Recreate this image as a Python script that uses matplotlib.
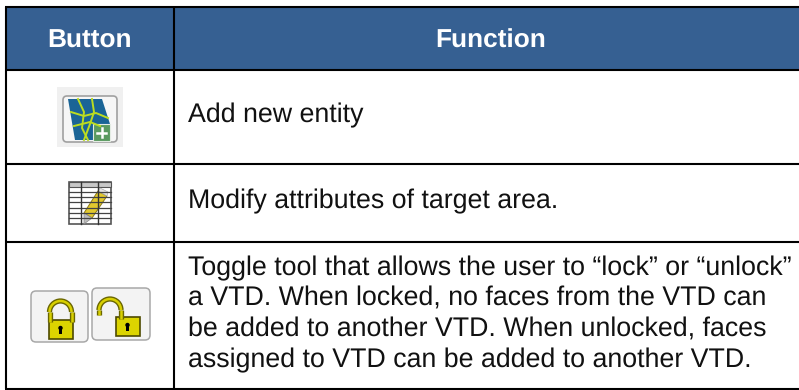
#!/usr/bin/env python3
# table of toolbar buttons, drawn in pixel coordinates
import matplotlib.pyplot as plt
from matplotlib.patches import Rectangle, FancyBboxPatch, Polygon, Arc, Circle

W, H = 799, 390

headers = ['Button', 'Function']
header_xs = [90, 491]
row_lines = [
    ['Add new entity'],
    ['Modify attributes of target area.'],
    ['Toggle tool that allows the user to \u201clock\u201d or \u201cunlock\u201d',
     'a VTD. When locked, no faces from the VTD can',
     'be added to another VTD. When unlocked, faces',
     'assigned to VTD can be added to another VTD.'],
]
row_edges = [7, 70, 164, 242, 389]
col_edges = [6, 174, 799]
baselines = [[122], [208], [275, 306, 337, 367]]

plt.rcParams['font.family'] = ['Liberation Sans', 'DejaVu Sans']
plt.rcParams['text.hinting'] = 'no_hinting'
fig = plt.figure(figsize=(W / 100, H / 100), dpi=100)
ax = fig.add_axes([0, 0, 1, 1])
ax.set_xlim(0, W)
ax.set_ylim(H, 0)
ax.axis('off')


def lock(x0, y0, shackle_x, shackle_top, leg_l, leg_r, w=24, h=19):
    # shackle first, dark outline then yellow core, then the body on top
    for col, lw in (('#6a6600', 3.8), ('#d8d000', 1.8)):
        ax.add_patch(Arc((shackle_x, shackle_top + 11), 22, 22, theta1=180, theta2=360, ec=col, lw=lw))
        ax.plot([shackle_x - 11, shackle_x - 11], [shackle_top + 11, leg_l], color=col, lw=lw, solid_capstyle='butt')
        ax.plot([shackle_x + 11, shackle_x + 11], [shackle_top + 11, leg_r], color=col, lw=lw, solid_capstyle='butt')
    ax.add_patch(Rectangle((x0, y0), w, h, fc='#dcd400', ec='#4e4a00', lw=1.2))
    ax.add_patch(Circle((x0 + w / 2, y0 + 8), 2.2, fc='black', ec='none'))
    ax.add_patch(Rectangle((x0 + w / 2 - 1.5, y0 + 9), 3, 4.5, fc='black', ec='none'))


# header band
ax.add_patch(Rectangle((col_edges[0], row_edges[0]), W - col_edges[0], row_edges[1] - row_edges[0],
                       fc='#366092', ec='none'))
for s, x in zip(headers, header_xs):
    ax.text(x, 48, s, color='white', fontsize=18.9, fontweight='bold', ha='center', va='baseline')

# grid lines
for y in row_edges:
    ax.plot([col_edges[0] - 1, W], [y, y], color='black', lw=1.5, solid_capstyle='butt')
for x in col_edges[:2]:
    ax.plot([x, x], [row_edges[0], row_edges[-1]], color='black', lw=1.5, solid_capstyle='butt')

# body text
for lines, ys in zip(row_lines, baselines):
    for s, y in zip(lines, ys):
        ax.text(188, y, s, color='#111111', fontsize=19.25, ha='left', va='baseline')

# map icon
ax.add_patch(Rectangle((57, 87), 66, 60, fc='#f0f0f0', ec='none'))
ax.add_patch(FancyBboxPatch((63, 96), 54, 46, boxstyle='round,pad=0,rounding_size=4',
                            fc='#f6f6f6', ec='#a0a0a0', lw=1.2))
ax.add_patch(Polygon([[68, 99], [102, 99], [110, 124], [110, 140], [75, 140]], fc='#1a6496', ec='none'))
for xs, ys in [([78, 84, 82, 88], [99, 112, 128, 140]),
               ([92, 94, 90, 84], [99, 112, 124, 140]),
               ([71, 84, 96, 108], [112, 116, 113, 118]),
               ([74, 90, 100], [126, 122, 126])]:
    ax.plot(xs, ys, color='#bcdc20', lw=1.4)
ax.add_patch(Rectangle((93, 124), 17, 17, fc='#5a9a60', ec='#e4ece4', lw=0.8))
ax.plot([97, 106], [132.5, 132.5], color='white', lw=1.8)
ax.plot([101.5, 101.5], [128, 137], color='white', lw=1.8)

# table + pencil icon
ax.add_patch(Rectangle((69, 182), 42, 42, fc='white', ec='#555555', lw=1.2))
ax.add_patch(Rectangle((69, 182), 42, 5, fc='#c8c8c8', ec='#555555', lw=0.8))
for y in [192, 197, 202, 208, 213, 218]:
    ax.plot([69, 111], [y, y], color='#444444', lw=0.9)
for x in [81, 98]:
    ax.plot([x, x], [182, 224], color='#333333', lw=1.0)
ax.add_patch(Polygon([[98, 191], [107, 196], [92, 218], [84, 213]], fc='#e2c92e', ec='#8c7a18', lw=0.7))
ax.add_patch(Polygon([[98, 191], [100, 188], [108, 192], [107, 196]], fc='#e4e4e4', ec='#aaaaaa', lw=0.5))
ax.add_patch(Polygon([[84, 213], [92, 218], [84, 224]], fc='#bdbdbd', ec='#888888', lw=0.5))

# lock buttons
ax.add_patch(FancyBboxPatch((31, 291), 57, 51, boxstyle='round,pad=0,rounding_size=5',
                            fc='#f3f3f3', ec='#a8a8a8', lw=1.1))
ax.add_patch(FancyBboxPatch((92, 288), 58, 52, boxstyle='round,pad=0,rounding_size=5',
                            fc='#f3f3f3', ec='#a8a8a8', lw=1.1))
lock(48.5, 320, 60.5, 301, 322, 322)
lock(115.5, 317, 110, 299, 315, 319)

fig.savefig('out.png', dpi=100)
